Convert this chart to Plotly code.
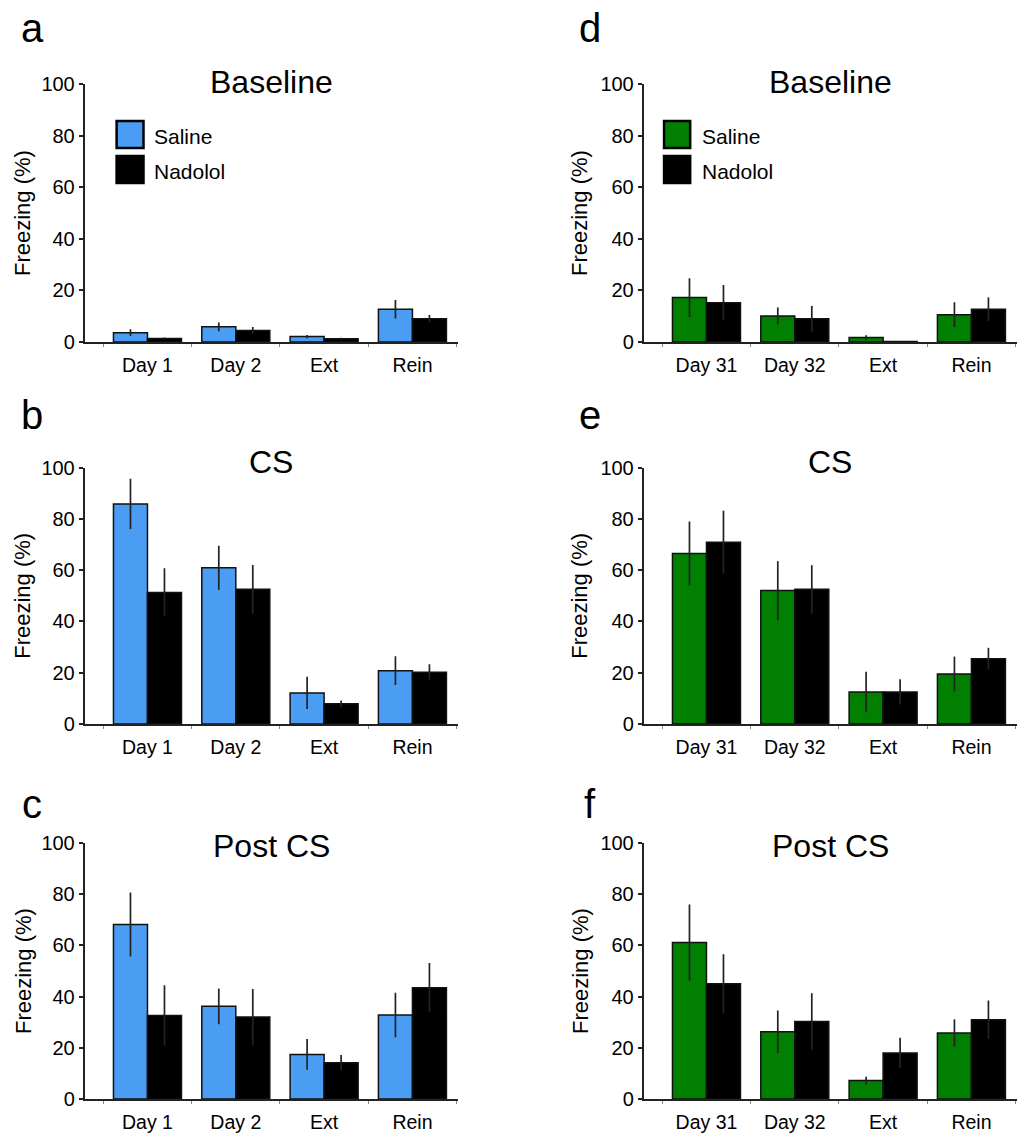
import plotly.graph_objects as go
from plotly.subplots import make_subplots

# ---------------- data ----------------
cats_early = ["Day 1", "Day 2", "Ext", "Rein"]
cats_late = ["Day 31", "Day 32", "Ext", "Rein"]

# panel a: Baseline (early)
a_saline = [3.6, 5.9, 2.1, 12.7]
a_saline_err = [1.3, 1.7, 0.6, 3.6]
a_nadolol = [1.4, 4.5, 1.3, 9.0]
a_nadolol_err = [0.3, 1.3, 0.3, 1.5]

# panel b: CS (early)
b_saline = [85.8, 60.9, 12.1, 20.8]
b_saline_err = [9.8, 8.6, 6.3, 5.6]
b_nadolol = [51.3, 52.5, 7.9, 20.2]
b_nadolol_err = [9.4, 9.5, 1.3, 3.1]

# panel c: Post CS (early)
c_saline = [68.2, 36.2, 17.4, 32.8]
c_saline_err = [12.5, 7.0, 6.0, 8.7]
c_nadolol = [32.6, 32.0, 14.2, 43.5]
c_nadolol_err = [11.8, 11.0, 3.0, 9.6]

# panel d: Baseline (late)
d_saline = [17.2, 10.1, 1.7, 10.6]
d_saline_err = [7.5, 3.3, 0.9, 4.8]
d_nadolol = [15.2, 9.0, 0.2, 12.7]
d_nadolol_err = [6.9, 5.0, 0.0, 4.6]

# panel e: CS (late)
e_saline = [66.5, 52.0, 12.5, 19.5]
e_saline_err = [12.4, 11.5, 7.9, 6.8]
e_nadolol = [70.9, 52.5, 12.5, 25.4]
e_nadolol_err = [12.2, 9.4, 4.9, 4.3]

# panel f: Post CS (late)
f_saline = [61.1, 26.3, 7.2, 25.8]
f_saline_err = [14.9, 8.3, 1.5, 5.3]
f_nadolol = [45.0, 30.3, 18.0, 31.0]
f_nadolol_err = [11.5, 11.0, 5.9, 7.5]

y_ticks = [0, 20, 40, 60, 80, 100]
titles = ["Baseline", "CS", "Post CS"]
letters_left = ["a", "b", "c"]
letters_right = ["d", "e", "f"]
group_names = ["Saline", "Nadolol"]

# ---------------- styling ----------------
BLUE = "#4A9DF3"
GREEN = "#007F00"
BLACK = "#000000"
FONT = "Arial, Liberation Sans, sans-serif"
PAGE_W, PAGE_H = 1025, 1138
OFF = 8  # default body margin of the html page
W, H = PAGE_W - 2 * OFF, PAGE_H - OFF


def px_x(p):
    return min(1.0, max(0.0, (p - OFF) / W))


def px_y(p):
    return min(1.0, max(0.0, 1 - (p - OFF) / H))


fig = make_subplots(rows=3, cols=2)

panels = [
    (1, 1, cats_early, a_saline, a_saline_err, a_nadolol, a_nadolol_err, BLUE),
    (2, 1, cats_early, b_saline, b_saline_err, b_nadolol, b_nadolol_err, BLUE),
    (3, 1, cats_early, c_saline, c_saline_err, c_nadolol, c_nadolol_err, BLUE),
    (1, 2, cats_late, d_saline, d_saline_err, d_nadolol, d_nadolol_err, GREEN),
    (2, 2, cats_late, e_saline, e_saline_err, e_nadolol, e_nadolol_err, GREEN),
    (3, 2, cats_late, f_saline, f_saline_err, f_nadolol, f_nadolol_err, GREEN),
]

for row, col, cats, sal, sal_err, nad, nad_err, color in panels:
    fig.add_trace(go.Bar(
        x=cats, y=sal, name=group_names[0], showlegend=False,
        marker=dict(color=color, line=dict(color="#111111", width=1.5)),
        error_y=dict(type="data", array=sal_err, visible=True, width=0,
                     thickness=1.7, color="#222222"),
    ), row=row, col=col)
    fig.add_trace(go.Bar(
        x=cats, y=nad, name=group_names[1], showlegend=False,
        marker=dict(color=BLACK, line=dict(color="#111111", width=1.5)),
        error_y=dict(type="data", array=nad_err, visible=True, width=0,
                     thickness=1.7, color="#222222"),
    ), row=row, col=col)

# domains (page pixels -> paper coords)
x_dom = {1: [px_x(84.5), px_x(458)], 2: [px_x(643.5), px_x(1017)]}
x_rng = {1: [-0.713, 3.516], 2: [-0.713, 3.516]}
y_dom = {
    1: [px_y(342), px_y(84)],
    2: [px_y(724), px_y(467.5)],
    3: [px_y(1099), px_y(843)],
}

axis_idx = {(1, 1): 1, (1, 2): 2, (2, 1): 3, (2, 2): 4, (3, 1): 5, (3, 2): 6}

for (row, col), idx in axis_idx.items():
    sfx = "" if idx == 1 else str(idx)
    fig.layout["xaxis" + sfx].update(
        domain=x_dom[col], range=x_rng[col], type="category",
        showline=True, linecolor="#222222", linewidth=1.5,
        ticks="outside", tickson="boundaries", ticklen=3, tickcolor="#888888",
        tickwidth=1, showgrid=False, zeroline=False, automargin=False,
        tickfont=dict(family=FONT, size=19.5, color="#000"),
        ticklabelstandoff=5,
    )
    fig.layout["yaxis" + sfx].update(
        domain=y_dom[row], range=[0, 100], tickvals=y_ticks,
        showline=True, linecolor="#222222", linewidth=1.5,
        ticks="outside", ticklen=4, tickcolor="#222222", tickwidth=1.5,
        showgrid=False, zeroline=False, automargin=False,
        tickfont=dict(family=FONT, size=20, color="#000"),
    )

annotations = []
shapes = []

title_y = {1: 82, 2: 462, 3: 846}
letter_y = {1: 28, 2: 415, 3: 804}
for (row, col), idx in axis_idx.items():
    sfx = "" if idx == 1 else str(idx)
    annotations.append(dict(
        text=titles[row - 1], xref="x" + sfx + " domain", x=0.5,
        yref="paper", y=px_y(title_y[row]), showarrow=False,
        xanchor="center", yanchor="middle",
        font=dict(family=FONT, size=32, color="#000"),
    ))
    annotations.append(dict(
        text="Freezing (%)", textangle=-90, xref="paper",
        x=px_x(23 if col == 1 else 580), yref="y" + sfx + " domain", y=0.5,
        showarrow=False, xanchor="center", yanchor="middle",
        font=dict(family=FONT, size=22, color="#000"),
    ))
    letter = letters_left[row - 1] if col == 1 else letters_right[row - 1]
    annotations.append(dict(
        text=letter, xref="paper", x=px_x(32 if col == 1 else 590),
        yref="paper", y=px_y(letter_y[row]), showarrow=False,
        xanchor="center", yanchor="middle",
        font=dict(family=FONT, size=40, color="#000"),
    ))

# significance marker above Day 1 saline (CS, panel b)
annotations.append(dict(
    text="**", xref="x3", x=-0.19, yref="y3", y=103.5, showarrow=False,
    xanchor="center", yanchor="middle",
    font=dict(family=FONT, size=26, color="#000"),
))

# legends (panels a and d)
legend_specs = [
    ("x", "y", BLUE, 0.086, 0.158, 0.182),
    ("x2", "y2", GREEN, 0.055, 0.125, 0.152),
]
for xr, yr, color, sx0, sx1, tx in legend_specs:
    for (y0, y1, ty, fill, label) in [
        (0.752, 0.857, 0.795, color, group_names[0]),
        (0.616, 0.721, 0.659, BLACK, group_names[1]),
    ]:
        shapes.append(dict(
            type="rect", xref=xr + " domain", yref=yr + " domain",
            x0=sx0, x1=sx1, y0=y0, y1=y1, fillcolor=fill,
            line=dict(color="#000", width=2.5),
        ))
        annotations.append(dict(
            text=label, xref=xr + " domain", yref=yr + " domain",
            x=tx, y=ty, xanchor="left", yanchor="middle", showarrow=False,
            font=dict(family=FONT, size=21, color="#000"),
        ))

fig.update_layout(
    width=W, height=H, autosize=False,
    margin=dict(l=0, r=0, t=0, b=0, autoexpand=False),
    plot_bgcolor="white", paper_bgcolor="white",
    barmode="group", bargap=0.23, bargroupgap=0,
    annotations=annotations, shapes=shapes,
    showlegend=False,
)

fig.write_html("out.html")
